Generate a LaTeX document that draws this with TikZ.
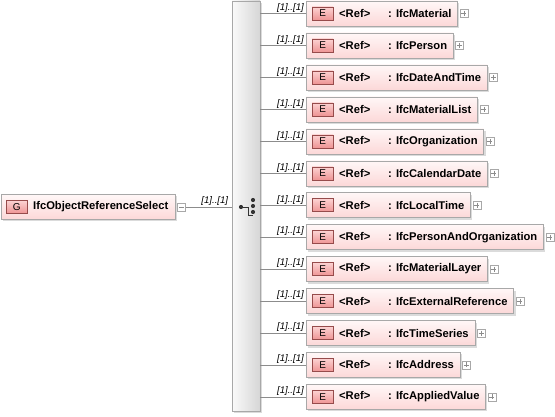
\documentclass[tikz,border=0pt]{standalone}
\usepackage{fontspec}
\setmainfont{Liberation Sans}
\usepackage{xcolor}
\usepackage{tikz}
\usetikzlibrary{shadows, positioning}
\definecolor{boxtop}{RGB}{255,247,247}
\definecolor{boxbot}{RGB}{252,216,216}
\definecolor{boxline}{RGB}{168,168,168}
\definecolor{tagtop}{RGB}{252,210,210}
\definecolor{tagbot}{RGB}{238,148,148}
\definecolor{tagline}{RGB}{150,75,75}
\definecolor{barleft}{RGB}{250,250,250}
\definecolor{barright}{RGB}{214,214,214}
\tikzstyle{shade}=[drop shadow={shadow xshift=2pt, shadow yshift=-2pt, fill=black, opacity=.14}]
\tikzstyle{elem}=[shape=rectangle, draw=boxline, top color=boxtop, bottom color=boxbot, minimum height=25pt, inner xsep=6pt, inner ysep=0, anchor=west, font=\bfseries\fontsize{11.2}{13}\selectfont, shade]
\tikzstyle{etag}=[shape=rectangle, draw=tagline, top color=tagtop, bottom color=tagbot, minimum width=21pt, minimum height=13pt, inner sep=0, anchor=west, font=\fontsize{10}{11}\selectfont]
\tikzstyle{seqbar}=[shape=rectangle, draw=boxline, left color=barleft, right color=barright, minimum width=28pt, minimum height=410pt, inner sep=0, shade]
\tikzstyle{expander}=[shape=rectangle, draw=boxline, fill=white, minimum size=8pt, inner sep=0]
\tikzstyle{mult}=[font=\itshape\fontsize{9.6}{10}\selectfont, inner sep=1pt, text=black]
\tikzstyle{conn}=[draw=black!45]
\tikzstyle{dot}=[shape=circle, minimum size=4.2pt, inner sep=0, fill=black!80]

\begin{document}
\begin{tikzpicture}[x=1pt, y=-1pt]
\useasboundingbox (0,0) rectangle (555,417);
\node[seqbar] (bar) at (246,206) {};
\node[dot] (c0) at (241,207) {};
\node[dot] (c1) at (253,200) {};
\node[dot] (c2) at (253,206) {};
\node[dot] (c3) at (253,212) {};
\draw[black!80, thick] (c0) -- (248,207) -- (248,215) -- (253,215);
\node[elem] (root) at (1,207) {\hspace*{26pt}IfcObjectReferenceSelect\hspace*{1pt}};
\node[etag] (g) at (6,207) {G};
\node[expander, right=2pt of root, path picture={\draw[black!45] (path picture bounding box.center) ++(-2.5,0) -- ++(5,0);}] (rootx) {};
\draw[conn] (rootx) -- node[mult, above, pos=.63] {[1]..[1]} (bar.west |- rootx);
\foreach \n [count=\i from 0] in {IfcMaterial, IfcPerson, IfcDateAndTime, IfcMaterialList, IfcOrganization, IfcCalendarDate, IfcLocalTime, IfcPersonAndOrganization, IfcMaterialLayer, IfcExternalReference, IfcTimeSeries, IfcAddress, IfcAppliedValue}
{
\node[elem] (e\i) at (306,{13.5+31.95*\i}) {\hspace*{27pt}\makebox[49pt][l]{<Ref>}: \n};
\node[etag] (t\i) at (312,{13.5+31.95*\i}) {E};
\node[expander, right=2pt of e\i, path picture={\draw[black!45] (path picture bounding box.center) ++(-2.5,0) -- ++(5,0) (path picture bounding box.center) ++(0,-2.5) -- ++(0,5);}] (x\i) {};
\draw[conn] (bar.east |- e\i.west) -- node[mult, above, pos=.66] {[1]..[1]} (e\i.west);
}
\end{tikzpicture}
\end{document}
